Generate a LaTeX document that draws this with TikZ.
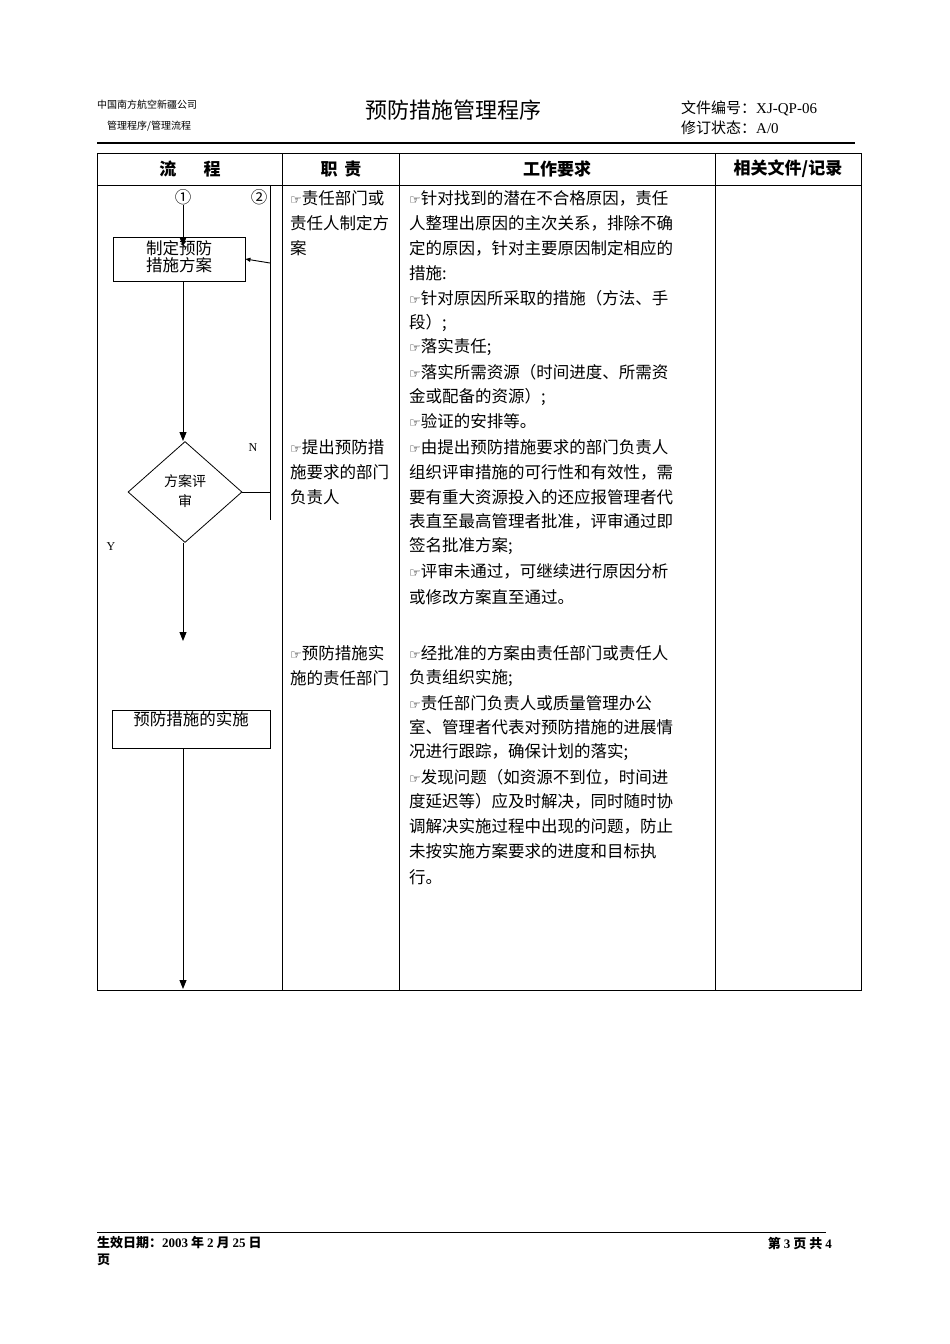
\documentclass[tikz,border=0pt]{standalone}
\usepackage{fontspec}
\setmainfont{Liberation Serif}
\newfontfamily\cjk{Noto Sans CJK SC}
\newfontfamily\dejavu{DejaVu Sans}
\usetikzlibrary{shapes.geometric,arrows.meta}
\XeTeXlinebreaklocale "zh"
\XeTeXlinebreakskip=0pt plus 4pt
\newcommand{\hand}{{\dejavu\fontsize{13}{13}\selectfont ☞}}
\newcommand{\fl}[1]{\makebox[303pt][s]{#1}}
\begin{document}
\begin{tikzpicture}[x=1pt,y=-1pt,
  every node/.style={inner sep=0pt,font=\cjk\fontsize{16.5}{20}\selectfont},
  line/.style={anchor=west},
  stepbox/.style={draw,line width=0.8pt,minimum width=132pt,minimum height=44pt},
  flow/.style={line width=0.9pt,-{Triangle[length=9pt,width=7pt]}}]
\useasboundingbox (0,0) rectangle (950,1344);
% header
\node[anchor=west,font=\cjk\fontsize{10}{10}\selectfont] (co) at (97,105) {中国南方航空新疆公司};
\node[anchor=west,font=\cjk\fontsize{10}{10}\selectfont] (sub) at (107,126) {管理程序/管理流程};
\node[font=\cjk\fontsize{22}{22}\selectfont] (title) at (453,110) {预防措施管理程序};
\node[anchor=west,font=\cjk\fontsize{15}{15}\selectfont] (doc) at (681,108) {文件编号：{\rmfamily XJ-QP-06}};
\node[anchor=west,font=\cjk\fontsize{15}{15}\selectfont] (rev) at (681,128) {修订状态：{\rmfamily A/0}};
\draw[line width=1.5pt] (97,143) -- (855,143);
% table
\draw[line width=0.7pt] (97,153) rectangle (861,990);
\draw[line width=0.7pt] (97,185) -- (861,185);
\foreach \xc in {282,399,715} \draw[line width=0.7pt] (\xc,153) -- (\xc,990);
\node[font=\cjk\bfseries\fontsize{17}{17}\selectfont] (h1) at (190,169) {流\hspace{1.6em}程};
\node[font=\cjk\bfseries\fontsize{17}{17}\selectfont] (h2) at (341,169) {职\hspace{0.4em}责};
\node[font=\cjk\bfseries\fontsize{17}{17}\selectfont] (h3) at (557,169) {工作要求};
\node[font=\cjk\bfseries\fontsize{17}{17}\selectfont] (h4) at (788,169) {相关文件/记录};
% flow
\node (c1) at (183,197) {①};
\node (c2) at (259,197) {②};
\node[stepbox] (plan) at (179,259) {\begin{tabular}{@{}c@{}}制定预防\\[-3pt]措施方案\end{tabular}};
\node[diamond,draw,line width=0.8pt,minimum width=114pt,minimum height=101pt,aspect=1.14] (rev) at (185,492) {\begin{tabular}{@{}c@{}}\fontsize{14}{16}\selectfont 方案评\\ \fontsize{14}{16}\selectfont 审\end{tabular}};
\node[draw,line width=0.8pt,minimum width=158pt,minimum height=38pt] (do) at (191,729) {};
\node[anchor=north] (dotext) at (191,711) {预防措施的实施};
\node[font=\rmfamily\fontsize{12}{12}\selectfont] (nn) at (253,448) {N};
\node[font=\rmfamily\fontsize{12}{12}\selectfont] (yy) at (111,547) {Y};
\coordinate (bt) at (270,185);
\coordinate (bb) at (270,520);
\coordinate (bm) at (270,263);
\coordinate (br) at (270,492);
\coordinate (t1) at (183,441);
\coordinate (t2) at (183,641);
\coordinate (t3) at (183,989);
\draw[flow] (c1.south) -- (183,246);
\draw[flow] (plan.south -| t1) -- (t1);
\draw[flow] (rev.south -| t2) -- (t2);
\draw[flow] (do.south -| t3) -- (t3);
\draw[line width=0.9pt] (bt) -- (bb);
\draw[line width=0.9pt] (rev.east) -- (br);
\draw[line width=0.9pt,-{Triangle[length=5pt,width=4pt]}] (bm) -- (plan.east);
% duties
\node[line] (d1) at (290,198) {\hand 责任部门或};
\node[line] (d2) at (290,223) {责任人制定方};
\node[line] (d3) at (290,248) {案};
\node[line] (d4) at (290,447) {\hand 提出预防措};
\node[line] (d5) at (290,472) {施要求的部门};
\node[line] (d6) at (290,497) {负责人};
\node[line] (d7) at (290,653) {\hand 预防措施实};
\node[line] (d8) at (290,678) {施的责任部门};
% requirements
\node[line] (r1) at (409,198) {\fl{\hand 针对找到的潜在不合格原因，责任}};
\node[line] (r2) at (409,223) {\fl{人整理出原因的主次关系，排除不确}};
\node[line] (r3) at (409,248) {\fl{定的原因，针对主要原因制定相应的}};
\node[line] (r4) at (409,273) {措施:};
\node[line] (r5) at (409,298) {\fl{\hand 针对原因所采取的措施（方法、手}};
\node[line] (r6) at (409,323) {段）;};
\node[line] (r7) at (409,347) {\hand 落实责任;};
\node[line] (r8) at (409,372) {\fl{\hand 落实所需资源（时间进度、所需资}};
\node[line] (r9) at (409,397) {金或配备的资源）;};
\node[line] (r10) at (409,421) {\hand 验证的安排等。};
\node[line] (r11) at (409,447) {\fl{\hand 由提出预防措施要求的部门负责人}};
\node[line] (r12) at (409,472) {\fl{组织评审措施的可行性和有效性，需}};
\node[line] (r13) at (409,497) {\fl{要有重大资源投入的还应报管理者代}};
\node[line] (r14) at (409,521) {\fl{表直至最高管理者批准，评审通过即}};
\node[line] (r15) at (409,546) {签名批准方案;};
\node[line] (r16) at (409,571) {\fl{\hand 评审未通过，可继续进行原因分析}};
\node[line] (r17) at (409,597) {或修改方案直至通过。};
\node[line] (r18) at (409,653) {\fl{\hand 经批准的方案由责任部门或责任人}};
\node[line] (r19) at (409,678) {负责组织实施;};
\node[line] (r20) at (409,703) {\fl{\hand 责任部门负责人或质量管理办公}};
\node[line] (r21) at (409,727) {\fl{室、管理者代表对预防措施的进展情}};
\node[line] (r22) at (409,752) {况进行跟踪，确保计划的落实;};
\node[line] (r23) at (409,777) {\fl{\hand 发现问题（如资源不到位，时间进}};
\node[line] (r24) at (409,801) {\fl{度延迟等）应及时解决，同时随时协}};
\node[line] (r25) at (409,826) {\fl{调解决实施过程中出现的问题，防止}};
\node[line] (r26) at (409,851) {\fl{未按实施方案要求的进度和目标执}};
\node[line] (r27) at (409,877) {行。};
% footer
\draw[line width=0.6pt] (97,1232) -- (826,1232);
\node[anchor=west,font=\cjk\bfseries\fontsize{13}{13}\selectfont] (eff) at (97,1243) {生效日期：{\rmfamily\bfseries 2003} 年 {\rmfamily\bfseries 2} 月 {\rmfamily\bfseries 25} 日};
\node[anchor=west,font=\cjk\bfseries\fontsize{13}{13}\selectfont] (pg) at (97,1260) {页};
\node[anchor=east,font=\cjk\bfseries\fontsize{13}{13}\selectfont] (pno) at (832,1243) {第 {\rmfamily\bfseries 3} 页 共 {\rmfamily\bfseries 4}};
\end{tikzpicture}
\end{document}
